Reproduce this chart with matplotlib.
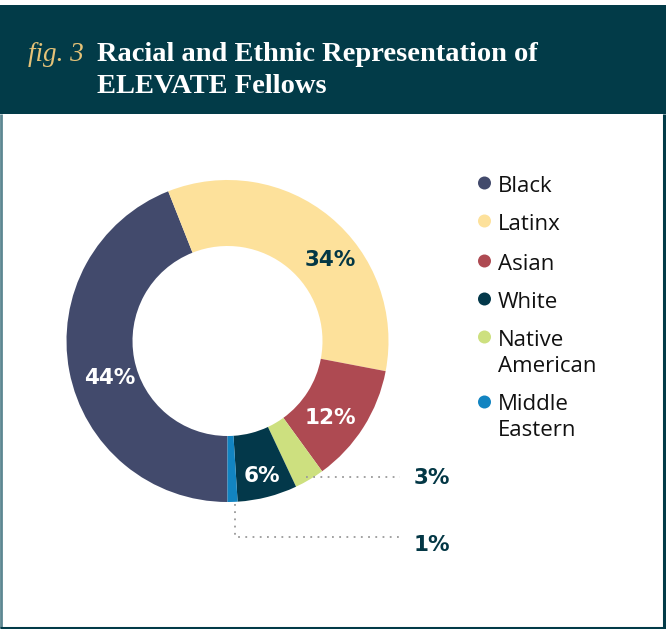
import matplotlib
matplotlib.use("Agg")
import matplotlib.pyplot as plt
from matplotlib.patches import Rectangle, Circle

# Data (pie order, clockwise from bottom)
categories = ["Black", "Latinx", "Asian", "Native American", "White", "Middle Eastern"]
values = [44, 34, 12, 3, 6, 1]
colors = ["#424a6c", "#fde19b", "#ae4a52", "#cde07f", "#03384a", "#1284c1"]
pct_labels = ["44%", "34%", "12%", "3%", "6%", "1%"]

legend_labels = ["Black", "Latinx", "Asian", "White", "Native\nAmerican", "Middle\nEastern"]
legend_colors = ["#424a6c", "#fde19b", "#ae4a52", "#03384a", "#cde07f", "#1284c1"]

W, H = 666, 629
fig = plt.figure(figsize=(W / 100, H / 100), dpi=100)
ax = fig.add_axes([0, 0, 1, 1])

def Y(y):
    return H - y

HEADER = "#023b48"
DARK = "#033745"
PCTFONT = dict(fontsize=15.5, weight="bold", family="DejaVu Sans")

# donut
cx, cy, R = 227.5, Y(341), 161
wedges, _ = ax.pie(values, colors=colors, startangle=-90, counterclock=False,
                   center=(cx, cy), radius=R,
                   wedgeprops=dict(width=R - 95, linewidth=0))
ax.set_xlim(0, W)
ax.set_ylim(0, H)
ax.set_aspect("auto")
ax.axis("off")

# header
ax.add_patch(Rectangle((0, Y(114)), W, 109, facecolor=HEADER, edgecolor="none", zorder=0))
# frame
ax.plot([1, 1], [Y(114), Y(627.5)], color="#5d8792", lw=2, solid_capstyle="butt")
ax.plot([0, 664.5], [Y(627.5), Y(627.5)], color=HEADER, lw=2.2, solid_capstyle="butt")
ax.plot([664, 664], [Y(114), Y(628.5)], color=HEADER, lw=2.2, solid_capstyle="butt")

ax.text(28, Y(61), "fig. 3", color="#e6c378", fontsize=19.5, family="Liberation Serif",
        style="italic", va="baseline", ha="left")
ax.text(97, Y(61), "Racial and Ethnic Representation of", color="white",
        fontsize=20.5, family="Liberation Serif", weight="bold", va="baseline", ha="left")
ax.text(97, Y(93), "ELEVATE Fellows", color="white",
        fontsize=20.5, family="Liberation Serif", weight="bold", va="baseline", ha="left")

# percentage labels
pct_pos = {"44%": (110, 378), "34%": (330, 260), "12%": (330, 418), "6%": (262, 476)}
for lab in pct_labels:
    if lab in pct_pos:
        x, y = pct_pos[lab]
        c = DARK if lab == "34%" else "white"
        ax.text(x, Y(y), lab, color=c, ha="center", va="center", **PCTFONT)

# leader lines
dot = dict(color="#9a9a9a", lw=1.3, linestyle=(0, (1, 3)))
ax.plot([306, 400], [Y(477), Y(477)], **dot)
ax.plot([235, 235, 400], [Y(504), Y(537), Y(537)], **dot)
ax.text(414, Y(478), pct_labels[3], color=DARK, ha="left", va="center", **PCTFONT)
ax.text(414, Y(545), pct_labels[5], color=DARK, ha="left", va="center", **PCTFONT)

# legend
leg_y = [183, 221, 261, 299, 337, 402]
for lab, col, y in zip(legend_labels, legend_colors, leg_y):
    ax.add_patch(Circle((484.5, Y(y)), 6.5, facecolor=col, edgecolor="none"))
    for i, line in enumerate(lab.split("\n")):
        ax.text(498, Y(y + 8.5 + 26 * i), line, color="#111111", fontsize=16,
                family="Open Sans", ha="left", va="baseline")

fig.savefig("out.png", dpi=100, facecolor="white")
